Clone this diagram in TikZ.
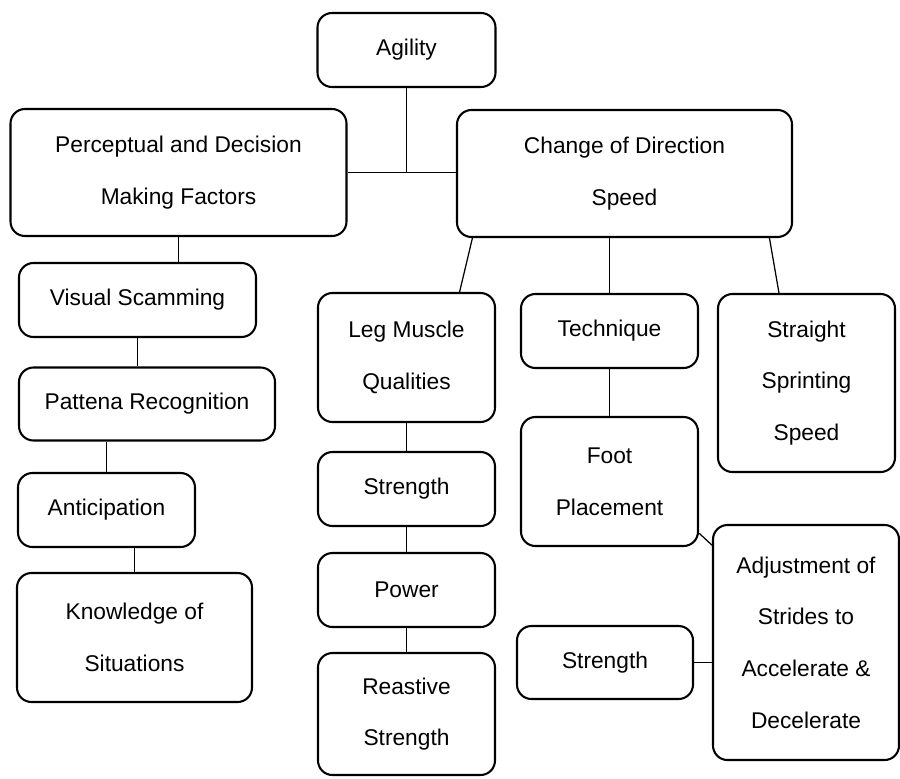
\documentclass[tikz,border=0pt]{standalone}
\usepackage{fontspec}
\setmainfont{Liberation Sans}
\usetikzlibrary{calc}

\begin{document}
\begin{tikzpicture}[%
x=0.017cm, y=-0.017cm,
blk/.style 2 args={draw, line width=1pt, rounded corners=7pt, inner sep=0pt,
  align=center, minimum width=#1*0.017cm, minimum height=#2*0.017cm,
  font=\fontsize{11}{25}\selectfont},
link/.style={line width=0.6pt},
]
\useasboundingbox (0,0) rectangle (900,778);
%% top level;
\node [blk={178}{74}] (agil) at (406.5,50) {Agility};
\node [blk={336}{127}] (perc) at (178.5,172.5) {Perceptual and Decision\\Making Factors};
\node [blk={335}{127}] (cods) at (624.5,173.5) {Change of Direction\\Speed};
%% perceptual branch;
\node [blk={237}{74}] (vis) at (137.5,300) {Visual Scamming};
\node [blk={256}{73}] (patt) at (147,404) {Pattena Recognition};
\node [blk={177}{74}] (anti) at (106.5,510) {Anticipation};
\node [blk={235}{129}] (know) at (134.5,637.5) {Knowledge of\\Situations};
%% leg muscle branch;
\node [blk={177}{129}] (leg) at (406.5,357.5) {Leg Muscle\\Qualities};
\node [blk={177}{74}] (str1) at (406.5,489) {Strength};
\node [blk={177}{74}] (pow) at (406.5,590) {Power};
\node [blk={177}{122}] (reas) at (406.5,714) {Reastive\\Strength};
%% technique branch;
\node [blk={177}{74}] (tech) at (609.5,331) {Technique};
\node [blk={177}{129}] (foot) at (609.5,481.5) {Foot\\Placement};
\node [blk={186}{235}] (adj) at (806,642.5) {Adjustment of\\Strides to\\Accelerate \&\\Decelerate};
\node [blk={176}{73}] (str2) at (605,662.5) {Strength};
%% sprint;
\node [blk={177}{178}] (sprint) at (806.5,383) {Straight\\Sprinting\\Speed};
%% links;
\draw [link] (agil.south) -- (agil.south |- perc.east);
\draw [link] (perc.east) -- (perc.east -| cods.west);
\draw [link] (perc.south) -- (perc.south |- vis.north);
\draw [link] (vis.south) -- (vis.south |- patt.north);
\draw [link] (anti.north |- patt.south) -- (anti.north);
\draw [link] (know.north |- anti.south) -- (know.north);
\draw [link] (cods.203.4) -- (leg.51);
\draw [link] (tech.north |- cods.south) -- (tech.north);
\draw [link] (cods.-24.8) -- (sprint.107.5);
\draw [link] (leg.south) -- (str1.north);
\draw [link] (str1.south) -- (pow.north);
\draw [link] (pow.south) -- (reas.north);
\draw [link] (tech.south) -- (foot.north);
\draw [link] (foot.-30) -- (adj.134);
\draw [link] (str2.east) -- (str2.east -| adj.west);
\end{tikzpicture}
\end{document}
